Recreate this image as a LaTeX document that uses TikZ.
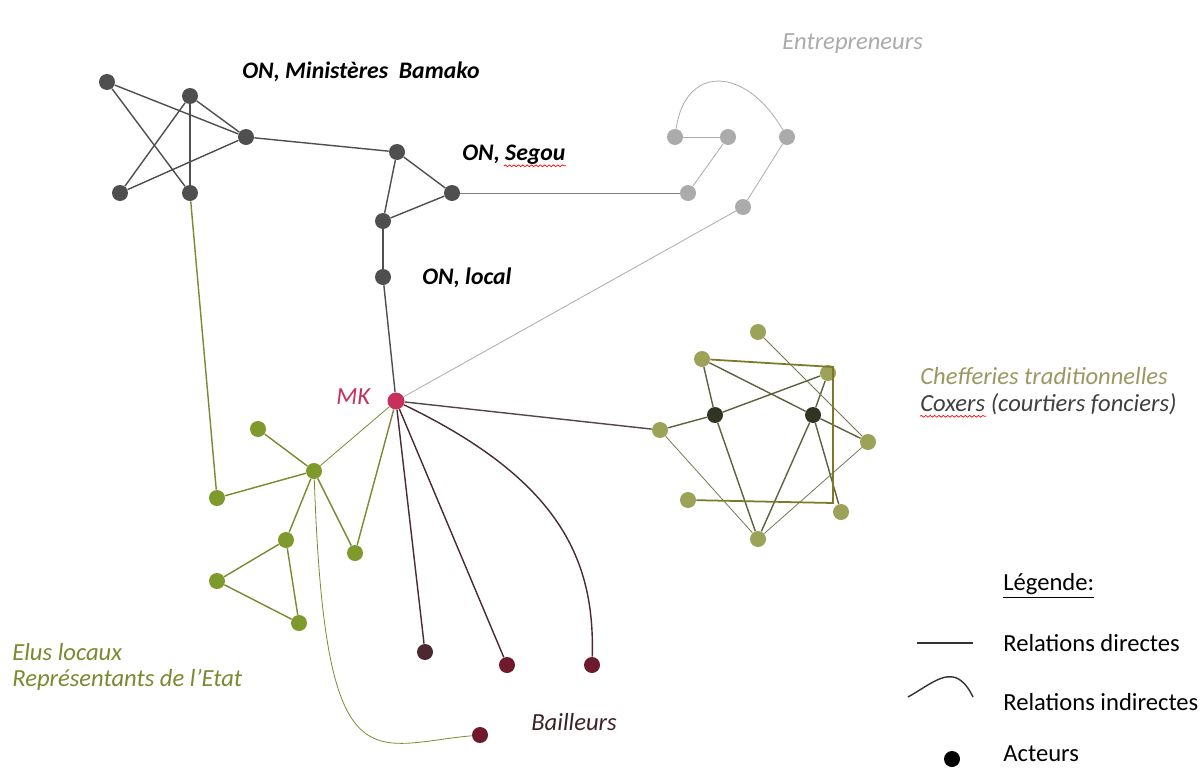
\documentclass[tikz,border=0pt]{standalone}
\usepackage{fontspec}
\setmainfont{Carlito}
\usetikzlibrary{decorations.pathmorphing}
\definecolor{acgray}{HTML}{4F4F4F}
\definecolor{aclight}{HTML}{ABABAB}
\definecolor{acmk}{HTML}{C8305C}
\definecolor{acgreen}{HTML}{7F9A2C}
\definecolor{acline}{HTML}{7A8A30}
\definecolor{ackhaki}{HTML}{9CA257}
\definecolor{acolive}{HTML}{7A7A28}
\definecolor{acdark}{HTML}{2F3522}
\definecolor{acwine}{HTML}{6E1A2C}
\definecolor{acbrown}{HTML}{4A2A30}
\definecolor{actxt}{HTML}{9A9862}
\tikzset{
  actor/.style={circle,fill=#1,inner sep=0pt,minimum size=3.2mm},
  rel/.style={draw=#1,line width=0.8pt},
  faint/.style={draw=#1,line width=0.45pt},
  lbl/.style={font=\fontsize{14}{16}\selectfont\itshape,inner sep=0pt,anchor=west},
  onlbl/.style={lbl,font=\fontsize{13.5}{16}\selectfont\bfseries\itshape},
  legtxt/.style={lbl,font=\fontsize{14}{16}\selectfont},
  squig/.style={draw=red,line width=0.4pt,decorate,decoration={snake,amplitude=0.5pt,segment length=2.5pt}},
}
\begin{document}
\begin{tikzpicture}[x=0.02cm,y=-0.02cm]
  \useasboundingbox[fill=white] (0,0) rectangle (1203,771);
  % ON
  \foreach \n/\x/\y in {b1/107/82,b2/190/96,b3/246/137,b4/120/193,b5/190/193,s1/397/152,s2/452/193,s3/383/221,l1/383/277}
    \node[actor=acgray] (\n) at (\x,\y) {};
  % entrepreneurs
  \foreach \n/\x/\y in {e1/675/137,e2/728/137,e3/787/137,e4/688/193,e5/743/207}
    \node[actor=aclight] (\n) at (\x,\y) {};
  \node[actor=acmk,minimum size=3.4mm] (mk) at (396,401) {};
  % elus locaux
  \foreach \n/\x/\y in {g1/258/429,g2/314/471,g3/217/498,g4/286/540,g5/355/553,g6/217/581,g7/299/623}
    \node[actor=acgreen] (\n) at (\x,\y) {};
  % chefferies, coxers
  \foreach \n/\x/\y in {t1/758/332,t2/702/359,t3/828/373,t6/660/430,t7/868/442,t8/688/500,t9/841/512,t10/758/539}
    \node[actor=ackhaki] (\n) at (\x,\y) {};
  \node[actor=acdark] (t4) at (715,415) {};
  \node[actor=acdark] (t5) at (813,415) {};
  % bailleurs
  \node[actor=acbrown] (k1) at (425,652) {};
  \foreach \n/\x/\y in {k2/507/665,k3/592/665,k4/480/735}
    \node[actor=acwine] (\n) at (\x,\y) {};

  \foreach \a/\b in {b1/b3,b1/b5,b2/b3,b2/b4,b2/b5,b4/b3,b3/s1,s1/s2,s1/s3,s3/s2,s3/l1,l1/mk}
    \draw[rel=acgray] (\a) -- (\b);
  \draw[faint=gray] (s2) -- (e4);
  \foreach \a/\b in {e1/e2,e2/e4,e3/e5,e5/mk}
    \draw[faint=aclight] (\a) -- (\b);
  \draw[faint=aclight] (e1) .. controls (685,65) and (745,65) .. (e3);
  \foreach \a/\b in {b5/g3,g1/g2,g2/g3,g2/g4,g2/g5,g5/mk,g4/g6,g4/g7,g6/g7}
    \draw[rel=acline] (\a) -- (\b);
  \draw[faint=acline] (g2) -- (mk);
  \draw[faint=acline] (g2) .. controls (325,790) and (370,745) .. (k4);
  \draw[rel=acgray!80!acwine] (mk) -- (t6);
  \draw[rel=acbrown] (mk) -- (k1);
  \draw[rel=acbrown] (mk) -- (k2);
  \draw[rel=acbrown] (mk) .. controls (560,480) and (595,560) .. (k3);
  \foreach \a/\b in {t2/t4,t2/t5,t5/t7,t3/t4,t3/t5,t6/t4,t4/t10,t5/t10,t5/t9}
    \draw[rel=acgray!60!acolive] (\a) -- (\b);
  \foreach \a/\b in {t1/t7,t6/t10,t7/t10}
    \draw[faint=acgray!50!ackhaki] (\a) -- (\b);
  \coordinate (c1) at (833,367);
  \coordinate (c2) at (833,503);
  \draw[rel=acolive,line width=1pt] (t2) -- (c1) -- (c2) -- (t8);

  \node[onlbl] (bamako) at (242,72) {ON, Ministères\ \ Bamako};
  \node[onlbl] (segou) at (462,155) {ON, Segou};
  \draw[squig] (segou.base east) ++(-62,5) -- ++(62,0);
  \node[onlbl] (local) at (422,278) {ON, local};
  \node[lbl,text=aclight] (entr) at (782,44) {Entrepreneurs};
  \node[lbl,text=acmk] (mklbl) at (336,397) {MK};
  \node[lbl,text=actxt] (chef) at (920,376) {Chefferies traditionnelles};
  \node[lbl,text=acgray!80!black] (cox) at (920,404) {Coxers (courtiers fonciers)};
  \draw[squig] (cox.base west) ++(0,5) -- ++(66,0);
  \node[lbl,text=acline] (elus) at (12,652) {Elus locaux};
  \node[lbl,text=acline] (repr) at (12,680) {Représentants de l’Etat};
  \node[lbl,text=acbrown!80!black] (baill) at (531,722) {Bailleurs};

  % legende
  \node[legtxt] (leg) at (1003,586) {\underline{Légende:}};
  \coordinate (ld1) at (917,643);
  \coordinate (ld2) at (973,643);
  \draw[rel=black!80] (ld1) -- (ld2);
  \node[legtxt] (legd) at (1003,643) {Relations directes};
  \coordinate (li1) at (908,697);
  \coordinate (li2) at (973,697);
  \draw[rel=black!80] (li1) .. controls (935,682) and (955,660) .. (li2);
  \node[legtxt] (legi) at (1003,702) {Relations indirectes};
  \node[actor=black] (lega) at (952,759) {};
  \node[legtxt] (legac) at (1003,754) {Acteurs};
\end{tikzpicture}
\end{document}
